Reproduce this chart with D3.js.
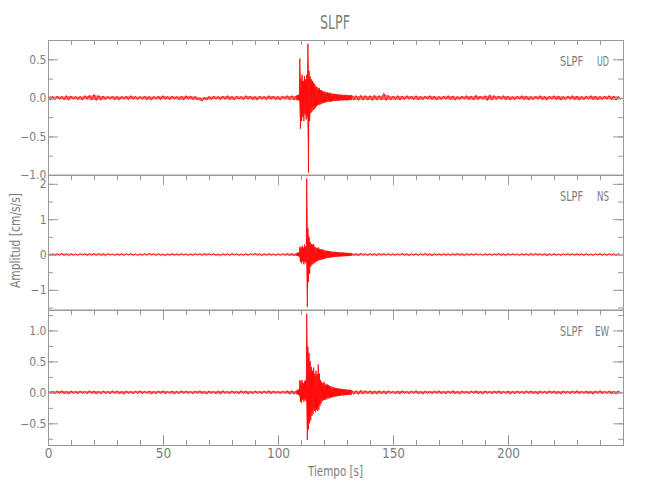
<!DOCTYPE html>
<html>
<head>
<meta charset="utf-8">
<script src="https://cdn.jsdelivr.net/npm/d3@7"></script>
<style>
  html, body { margin: 0; padding: 0; background: #fff; }
  svg { display: block; }
  text { font-family: "Liberation Sans Narrow", "DejaVu Sans Condensed", "Liberation Sans", sans-serif; fill: #7d7d7d; }
</style>
</head>
<body>
<svg id="chart" width="650" height="500"></svg>
<script>
// ---------------- DATA ----------------
const stationName = "SLPF";
const channels = ["UD", "NS", "EW"];
const xTickLabels = [0, 50, 100, 150, 200];
const udTicks = [-1.0, -0.5, 0.0, 0.5];
const nsTicks = [-1, 0, 1, 2];
const ewTicks = [-0.5, 0.0, 0.5, 1.0];

// sampling grid (s): 2 s bins before 108 s and after 132 s, 0.5 s bins in the event window
const timeSec = d3.range(0, 108, 2).concat(d3.range(108, 132, 0.5), d3.range(132, 250, 2));

// per-bin maximum / minimum amplitude (cm/s/s)
const udHi = [
  0.03,0.02,0.025,0.02,0.03,0.025,0.02,0.02,0.03,0.035,
  0.045,0.03,0.025,0.02,0.025,0.02,0.02,0.025,0.03,0.02,
  0.02,0.025,0.02,0.02,0.025,0.03,0.02,0.025,0.02,0.025,
  0.03,0.025,0.02,0.0,0.01,0.02,0.025,0.02,0.025,0.03,
  0.02,0.025,0.02,0.03,0.025,0.02,0.025,0.02,0.03,0.025,
  0.02,0.025,0.03,0.03,
  0.03,0.035,0.04,0.51,0.25,0.3,0.22,0.28,0.24,0.3,
  0.70,0.35,0.28,0.24,0.22,0.2,0.18,0.15,0.14,0.12,
  0.13,0.1,0.1,0.09,0.08,0.08,0.07,0.07,0.06,0.07,
  0.06,0.05,0.06,0.05,0.05,0.045,0.05,0.04,0.045,0.04,
  0.04,0.035,0.04,0.035,0.04,0.035,0.03,0.035,
  0.035,0.03,0.035,0.03,0.03,0.035,0.03,0.06,0.03,0.025,
  0.03,0.025,0.03,0.025,0.03,0.02,0.025,0.03,0.025,0.02,
  0.025,0.03,0.025,0.02,0.025,0.03,0.025,0.035,0.025,0.03,
  0.04,0.03,0.025,0.03,0.025,0.02,0.025,0.03,0.025,0.02,
  0.025,0.03,0.02,0.025,0.03,0.025,0.02,0.025,0.03,0.025,
  0.02,0.025,0.03,0.025,0.02,0.025,0.03,0.025,0.02
];
const udLo = [
  -0.03,-0.025,-0.02,-0.025,-0.03,-0.02,-0.025,-0.03,-0.02,-0.03,
  -0.035,-0.03,-0.025,-0.02,-0.025,-0.03,-0.02,-0.025,-0.02,-0.025,
  -0.02,-0.025,-0.03,-0.02,-0.025,-0.02,-0.025,-0.02,-0.025,-0.03,
  -0.02,-0.025,-0.03,-0.045,-0.03,-0.025,-0.02,-0.025,-0.02,-0.025,
  -0.03,-0.02,-0.025,-0.02,-0.025,-0.03,-0.02,-0.025,-0.02,-0.025,
  -0.03,-0.02,-0.025,-0.03,
  -0.03,-0.03,-0.04,-0.40,-0.3,-0.25,-0.3,-0.22,-0.28,-0.25,
  -0.97,-0.3,-0.2,-0.18,-0.16,-0.15,-0.13,-0.11,-0.1,-0.09,
  -0.09,-0.08,-0.07,-0.07,-0.06,-0.06,-0.055,-0.05,-0.05,-0.05,
  -0.045,-0.045,-0.04,-0.04,-0.04,-0.035,-0.04,-0.035,-0.035,-0.03,
  -0.035,-0.03,-0.03,-0.035,-0.03,-0.03,-0.03,-0.03,
  -0.03,-0.035,-0.03,-0.03,-0.035,-0.03,-0.03,-0.035,-0.03,-0.025,
  -0.03,-0.025,-0.02,-0.025,-0.03,-0.025,-0.02,-0.025,-0.03,-0.025,
  -0.02,-0.025,-0.03,-0.025,-0.02,-0.025,-0.03,-0.025,-0.02,-0.035,
  -0.03,-0.025,-0.02,-0.025,-0.03,-0.025,-0.02,-0.025,-0.03,-0.025,
  -0.02,-0.025,-0.03,-0.02,-0.025,-0.03,-0.025,-0.02,-0.025,-0.03,
  -0.025,-0.02,-0.025,-0.03,-0.025,-0.02,-0.025,-0.03,-0.025
];
const nsHi = [
  0.03,0.025,0.03,0.035,0.025,0.03,0.02,0.03,0.025,0.03,
  0.035,0.03,0.025,0.03,0.02,0.025,0.03,0.025,0.03,0.02,
  0.025,0.03,0.035,0.025,0.03,0.02,0.025,0.03,0.025,0.03,
  0.02,0.025,0.03,0.025,0.035,0.03,0.025,0.02,0.03,0.025,
  0.03,0.025,0.02,0.03,0.025,0.035,0.03,0.025,0.03,0.02,
  0.025,0.03,0.035,0.04,
  0.04,0.05,0.06,0.22,0.2,0.25,0.2,0.28,0.22,2.15,
  0.74,0.5,0.35,0.3,0.28,0.3,0.22,0.2,0.18,0.2,
  0.16,0.15,0.14,0.15,0.12,0.12,0.1,0.11,0.1,0.09,
  0.09,0.08,0.08,0.07,0.08,0.07,0.06,0.07,0.06,0.06,
  0.05,0.06,0.05,0.05,0.05,0.04,0.05,0.04,
  0.04,0.035,0.04,0.03,0.035,0.03,0.035,0.03,0.03,0.025,
  0.03,0.035,0.025,0.03,0.025,0.03,0.035,0.025,0.03,0.025,
  0.03,0.025,0.03,0.035,0.025,0.03,0.025,0.03,0.02,0.03,
  0.025,0.03,0.035,0.025,0.03,0.025,0.02,0.03,0.025,0.03,
  0.035,0.025,0.03,0.025,0.03,0.02,0.025,0.03,0.025,0.03,
  0.025,0.03,0.02,0.025,0.03,0.025,0.03,0.025,0.03
];
const nsLo = [
  -0.025,-0.03,-0.025,-0.03,-0.035,-0.025,-0.03,-0.02,-0.03,-0.025,
  -0.03,-0.025,-0.035,-0.02,-0.03,-0.025,-0.03,-0.02,-0.025,-0.03,
  -0.03,-0.025,-0.02,-0.03,-0.025,-0.035,-0.03,-0.025,-0.03,-0.02,
  -0.025,-0.03,-0.02,-0.03,-0.025,-0.02,-0.03,-0.035,-0.025,-0.03,
  -0.02,-0.03,-0.025,-0.03,-0.02,-0.025,-0.035,-0.03,-0.025,-0.03,
  -0.03,-0.025,-0.035,-0.04,
  -0.04,-0.05,-0.06,-0.21,-0.25,-0.2,-0.28,-0.22,-0.25,-1.48,
  -0.78,-0.55,-0.35,-0.3,-0.27,-0.25,-0.22,-0.2,-0.18,-0.17,
  -0.16,-0.15,-0.14,-0.13,-0.12,-0.11,-0.1,-0.1,-0.09,-0.09,
  -0.08,-0.08,-0.07,-0.07,-0.07,-0.06,-0.06,-0.06,-0.05,-0.06,
  -0.05,-0.05,-0.05,-0.04,-0.05,-0.04,-0.04,-0.04,
  -0.035,-0.04,-0.03,-0.035,-0.03,-0.035,-0.03,-0.025,-0.03,-0.03,
  -0.025,-0.03,-0.035,-0.025,-0.03,-0.025,-0.03,-0.035,-0.025,-0.03,
  -0.025,-0.03,-0.025,-0.03,-0.035,-0.025,-0.03,-0.02,-0.03,-0.025,
  -0.03,-0.025,-0.03,-0.035,-0.025,-0.02,-0.03,-0.025,-0.03,-0.025,
  -0.03,-0.025,-0.035,-0.03,-0.025,-0.03,-0.02,-0.025,-0.03,-0.025,
  -0.03,-0.025,-0.03,-0.02,-0.025,-0.03,-0.025,-0.03,-0.025
];
const ewHi = [
  0.025,0.02,0.025,0.03,0.02,0.025,0.02,0.025,0.02,0.03,
  0.025,0.02,0.025,0.02,0.03,0.025,0.02,0.025,0.02,0.025,
  0.03,0.02,0.025,0.02,0.025,0.03,0.02,0.025,0.02,0.03,
  0.025,0.02,0.025,0.03,0.02,0.025,0.02,0.025,0.03,0.02,
  0.025,0.02,0.03,0.025,0.02,0.025,0.02,0.025,0.03,0.025,
  0.02,0.025,0.03,0.03,
  0.03,0.04,0.05,0.2,0.18,0.2,0.15,0.18,0.2,1.27,
  0.74,0.63,0.5,0.41,0.35,0.4,0.3,0.35,0.3,0.45,
  0.3,0.2,0.17,0.15,0.17,0.14,0.12,0.13,0.12,0.1,
  0.1,0.09,0.08,0.08,0.07,0.07,0.07,0.06,0.06,0.06,
  0.05,0.05,0.05,0.05,0.045,0.04,0.045,0.04,
  0.035,0.03,0.035,0.03,0.03,0.025,0.03,0.025,0.03,0.02,
  0.025,0.03,0.02,0.025,0.03,0.02,0.025,0.02,0.025,0.03,
  0.02,0.025,0.03,0.02,0.025,0.02,0.025,0.03,0.02,0.025,
  0.02,0.025,0.03,0.02,0.025,0.02,0.025,0.02,0.03,0.025,
  0.02,0.025,0.02,0.03,0.025,0.02,0.025,0.02,0.025,0.03,
  0.02,0.025,0.02,0.025,0.03,0.02,0.025,0.02,0.025
];
const ewLo = [
  -0.02,-0.025,-0.02,-0.025,-0.03,-0.02,-0.025,-0.02,-0.025,-0.02,
  -0.03,-0.025,-0.02,-0.025,-0.02,-0.025,-0.03,-0.02,-0.025,-0.02,
  -0.025,-0.02,-0.03,-0.025,-0.02,-0.025,-0.02,-0.03,-0.025,-0.02,
  -0.02,-0.025,-0.02,-0.025,-0.03,-0.02,-0.025,-0.03,-0.02,-0.025,
  -0.02,-0.025,-0.02,-0.03,-0.025,-0.02,-0.025,-0.02,-0.025,-0.02,
  -0.025,-0.02,-0.03,-0.03,
  -0.03,-0.04,-0.05,-0.15,-0.17,-0.12,-0.15,-0.12,-0.15,-0.77,
  -0.6,-0.5,-0.45,-0.38,-0.35,-0.3,-0.32,-0.28,-0.3,-0.28,
  -0.22,-0.18,-0.14,-0.13,-0.12,-0.12,-0.11,-0.1,-0.1,-0.09,
  -0.08,-0.08,-0.07,-0.07,-0.07,-0.06,-0.06,-0.06,-0.05,-0.05,
  -0.05,-0.05,-0.045,-0.04,-0.045,-0.04,-0.04,-0.04,
  -0.03,-0.035,-0.03,-0.025,-0.03,-0.03,-0.025,-0.03,-0.02,-0.025,
  -0.03,-0.02,-0.025,-0.02,-0.025,-0.03,-0.02,-0.025,-0.02,-0.025,
  -0.025,-0.02,-0.025,-0.03,-0.02,-0.025,-0.02,-0.025,-0.03,-0.02,
  -0.025,-0.02,-0.025,-0.02,-0.03,-0.025,-0.02,-0.025,-0.02,-0.025,
  -0.03,-0.02,-0.025,-0.02,-0.025,-0.03,-0.02,-0.025,-0.02,-0.025,
  -0.02,-0.025,-0.03,-0.02,-0.025,-0.02,-0.025,-0.03,-0.02
];

// ---------------- LAYOUT ----------------
const svg = d3.select("#chart");
const left = 48, right = 623;
const axisColor = "#999999";
const x = d3.scaleLinear().domain([0, 250]).range([left, right]);

const panels = [
  { ch: channels[0], chW: 12, hi: udHi, lo: udLo, top: 40,  bottom: 175, domain: [-1.0, 0.75], major: udTicks, minorStep: 0.25, fmt: d3.format(".1f"), topMajorLen: 5 },
  { ch: channels[1], chW: 12, hi: nsHi, lo: nsLo, top: 175, bottom: 310, domain: [-1.57, 2.25], major: nsTicks, minorStep: 0.5,  fmt: d3.format("d"),   topMajorLen: 10 },
  { ch: channels[2], chW: 14, hi: ewHi, lo: ewLo, top: 310, bottom: 445, domain: [-0.85, 1.33], major: ewTicks, minorStep: 0.25, fmt: d3.format(".1f"), topMajorLen: 10 }
];

const xMinor = d3.range(0, 251, 10);

function styleAxis(g) {
  g.selectAll("path.domain").attr("stroke", axisColor).attr("stroke-width", 1);
  g.selectAll(".tick line").attr("stroke", axisColor).attr("stroke-width", 1);
  g.selectAll(".tick text").attr("fill", "#7d7d7d");
}

panels.forEach((p, idx) => {
  const y = d3.scaleLinear().domain(p.domain).range([p.bottom, p.top]);
  const minorVals = d3.range(Math.ceil(p.domain[0] / p.minorStep) * p.minorStep, p.domain[1] + 1e-9, p.minorStep)
    .map(v => Math.round(v * 1000) / 1000);

  const n = Math.min(timeSec.length, p.hi.length, p.lo.length);
  const bins = d3.range(n).map(i => ({
    t: timeSec[i],
    dt: (i + 1 < timeSec.length ? timeSec[i + 1] : 250) - timeSec[i],
    hi: p.hi[i], lo: p.lo[i]
  }));
  const pts = [];
  bins.forEach(b => { pts.push([b.t, b.hi]); pts.push([b.t + b.dt / 2, b.lo]); });

  const clipId = "clip" + idx;
  svg.append("clipPath").attr("id", clipId).append("rect")
    .attr("x", left).attr("y", p.top - 12).attr("width", right - left).attr("height", p.bottom - p.top + 24);

  // envelope band (min..max)
  svg.append("path")
    .datum(bins)
    .attr("clip-path", `url(#${clipId})`)
    .attr("fill", "#ff0000")
    .attr("fill-opacity", 0.55)
    .attr("d", d3.area().x(d => x(d.t + d.dt / 4)).y0(d => y(d.lo * 0.8)).y1(d => y(d.hi * 0.8)));

  // oscillating trace
  svg.append("path")
    .datum(pts)
    .attr("clip-path", `url(#${clipId})`)
    .attr("fill", "none")
    .attr("stroke", "#ff0000")
    .attr("stroke-width", 0.9)
    .attr("stroke-opacity", 0.9)
    .attr("d", d3.line().x(d => x(d[0])).y(d => y(d[1])));

  // left axis: major + minor
  const gl = svg.append("g").attr("transform", `translate(${left},0)`)
    .call(d3.axisLeft(y).tickValues(p.major).tickSizeInner(-10).tickSizeOuter(0).tickPadding(1.5).tickFormat(p.fmt));
  gl.selectAll(".tick text").attr("font-size", 12);
  styleAxis(gl);
  const glm = svg.append("g").attr("transform", `translate(${left},0)`)
    .call(d3.axisLeft(y).tickValues(minorVals).tickSizeInner(-5).tickSizeOuter(0).tickFormat(""));
  styleAxis(glm);

  // right axis
  const gr = svg.append("g").attr("transform", `translate(${right},0)`)
    .call(d3.axisRight(y).tickValues(p.major).tickSizeInner(-10).tickSizeOuter(0).tickFormat(""));
  styleAxis(gr);
  const grm = svg.append("g").attr("transform", `translate(${right},0)`)
    .call(d3.axisRight(y).tickValues(minorVals).tickSizeInner(-5).tickSizeOuter(0).tickFormat(""));
  styleAxis(grm);

  // top axis
  const gt = svg.append("g").attr("transform", `translate(0,${p.top})`)
    .call(d3.axisTop(x).tickValues(xTickLabels).tickSizeInner(-p.topMajorLen).tickSizeOuter(0).tickFormat(""));
  styleAxis(gt);
  const gtm = svg.append("g").attr("transform", `translate(0,${p.top})`)
    .call(d3.axisTop(x).tickValues(xMinor).tickSizeInner(-5).tickSizeOuter(0).tickFormat(""));
  styleAxis(gtm);

  // bottom axis (labels only on the last panel)
  if (idx === panels.length - 1) {
    const gb = svg.append("g").attr("transform", `translate(0,${p.bottom})`)
      .call(d3.axisBottom(x).tickValues(xTickLabels).tickSizeInner(-10).tickSizeOuter(0).tickPadding(3).tickFormat(d3.format("d")));
    gb.selectAll(".tick text").attr("font-size", 13.5);
    styleAxis(gb);
    const gbm = svg.append("g").attr("transform", `translate(0,${p.bottom})`)
      .call(d3.axisBottom(x).tickValues(xMinor).tickSizeInner(-5).tickSizeOuter(0).tickFormat(""));
    styleAxis(gbm);
  } else {
    svg.append("line").attr("x1", left).attr("x2", right).attr("y1", p.bottom).attr("y2", p.bottom)
      .attr("stroke", axisColor).attr("stroke-width", 1);
  }

  // station / channel label
  svg.append("text").attr("x", 560).attr("y", p.top + 26).attr("font-size", 13.5)
    .attr("textLength", 23).attr("lengthAdjust", "spacingAndGlyphs").text(stationName);
  svg.append("text").attr("x", 609 - p.chW).attr("y", p.top + 26).attr("font-size", 13.5)
    .attr("textLength", p.chW).attr("lengthAdjust", "spacingAndGlyphs").text(p.ch);
});

// title and axis titles
svg.append("text").attr("x", 320).attr("y", 29).attr("font-size", 20)
  .attr("textLength", 30).attr("lengthAdjust", "spacingAndGlyphs").text(stationName);
svg.append("text").attr("x", 308).attr("y", 476).attr("font-size", 13.5)
  .attr("textLength", 55).attr("lengthAdjust", "spacingAndGlyphs").text("Tiempo [s]");
svg.append("text").attr("transform", "translate(20,288) rotate(-90)").attr("font-size", 13.5)
  .attr("textLength", 95).attr("lengthAdjust", "spacingAndGlyphs").text("Amplitud [cm/s/s]");
</script>
</body>
</html>
